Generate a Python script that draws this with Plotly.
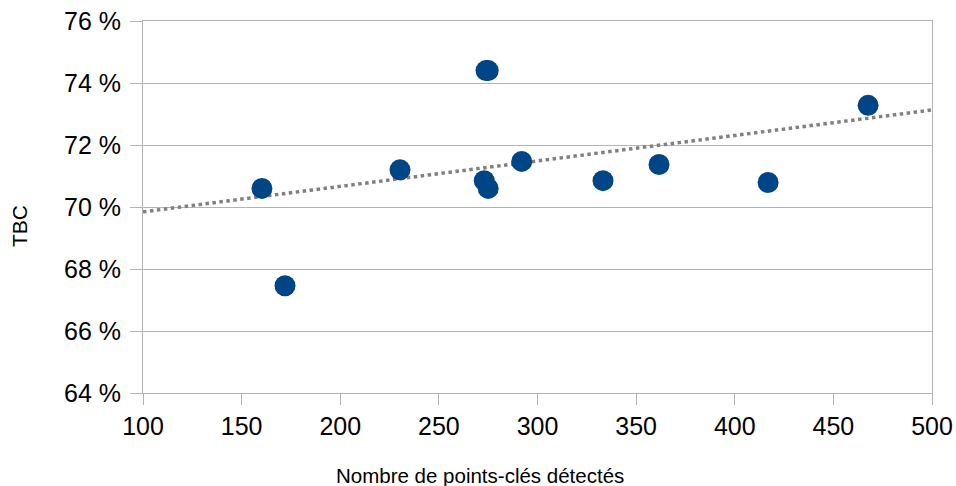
import numpy as np
import plotly.graph_objects as go

# Data
keypoints = [160.3, 172.0, 230.3, 273.9, 275.0, 273.0, 275.0, 292.0, 333.2, 361.6, 416.9, 467.6]
tbc = [70.60, 67.46, 71.20, 74.40, 74.40, 70.85, 70.60, 71.47, 70.85, 71.37, 70.79, 73.28]
x_range = [100, 500]
y_ticks = [64, 66, 68, 70, 72, 74, 76]
y_tick_labels = [f"{v} %" for v in y_ticks]
x_title = "Nombre de points-clés détectés"
y_title = "TBC"

# Linear trend line computed from the data
slope, intercept = np.polyfit(keypoints, tbc, 1)
trend_x = np.array(x_range, dtype=float)
trend_y = slope * trend_x + intercept

fig = go.Figure()
fig.add_trace(go.Scatter(
    x=trend_x, y=trend_y, mode="lines",
    line=dict(color="#808080", width=3.5, dash="dot"),
    hoverinfo="skip", showlegend=False,
))
fig.add_trace(go.Scatter(
    x=keypoints, y=tbc, mode="markers",
    marker=dict(color="#004586", size=21, line=dict(width=0)),
    showlegend=False,
))

font_family = "Liberation Sans, Arial, sans-serif"
fig.update_layout(
    width=956, height=486,
    margin=dict(l=143, r=24, t=21, b=93, autoexpand=False),
    paper_bgcolor="white", plot_bgcolor="white",
    font=dict(family=font_family, color="black"),
    xaxis=dict(
        range=x_range, dtick=50, tick0=100,
        showgrid=False, zeroline=False,
        showline=True, linecolor="#b3b3b3", linewidth=1,
        mirror=True, automargin=False,
        ticks="outside", ticklen=11, tickcolor="#b3b3b3",
        tickfont=dict(size=25, family=font_family),
    ),
    yaxis=dict(
        range=[64, 76], tickvals=y_ticks, ticktext=y_tick_labels,
        showgrid=True, gridcolor="#b3b3b3", gridwidth=1,
        zeroline=False,
        showline=True, linecolor="#b3b3b3", linewidth=1,
        mirror=True, automargin=False,
        ticks="outside", ticklen=12, tickcolor="#b3b3b3",
        ticklabelstandoff=4,
        tickfont=dict(size=25, family=font_family),
    ),
)

# Axis titles placed like the reference (centred on the whole image)
fig.add_annotation(
    text=x_title, xref="paper", yref="paper",
    x=(480 - 143) / 789, y=-(474 - 392) / 372,
    xanchor="center", yanchor="middle", showarrow=False,
    font=dict(size=20.5, family=font_family, color="black"),
)
fig.add_annotation(
    text=y_title, xref="paper", yref="paper",
    x=-(143 - 20) / 789, y=(392 - 225) / 372,
    xanchor="center", yanchor="middle", textangle=-90, showarrow=False,
    font=dict(size=21, family=font_family, color="black"),
)

fig.write_html("out.html")
